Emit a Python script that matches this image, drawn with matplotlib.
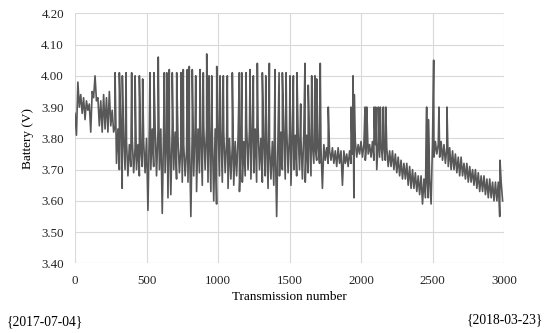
#Battery voltage per transmission

#Importing libraries
import numpy as np
import matplotlib
matplotlib.use("Agg")
import matplotlib.pyplot as plt

#Band: one high and one low value per 20 transmissions
bin_start = list(range(0, 3000, 20))
band_hi = [3.88, 3.98, 3.94, 3.93, 3.92, 3.91, 3.95, 4.00, 3.93, 3.92,
           3.94, 3.93, 3.95, 3.89, 3.84, 3.83, 3.84, 3.80, 3.79, 3.78,
           3.80, 3.77, 3.78, 3.76, 3.79, 3.80, 3.84, 3.83, 3.84, 3.82,
           3.83, 3.84, 3.82, 3.83, 3.84, 3.82, 3.80, 3.77, 3.78, 3.76,
           3.81, 3.83, 3.84, 3.83, 3.82, 3.84, 3.83, 3.84, 3.82, 3.83,
           3.84, 3.83, 3.82, 3.79, 3.80, 3.78, 3.79, 3.80, 3.78, 3.79,
           3.84, 3.83, 3.84, 3.83, 3.84, 3.80, 3.79, 3.80, 3.78, 3.79,
           3.80, 3.83, 3.82, 3.83, 3.84, 3.82, 3.83, 3.81, 3.82, 3.80,
           3.82, 3.81, 3.80, 3.78, 3.77, 3.78, 3.77, 3.78, 3.77, 3.76,
           3.77, 3.76, 3.77, 3.76, 3.76, 3.75, 3.76, 3.75, 3.79, 3.78,
           3.79, 3.78, 3.79, 3.78, 3.79, 3.78, 3.79, 3.78, 3.78, 3.77,
           3.76, 3.76, 3.75, 3.74, 3.73, 3.72, 3.72, 3.71, 3.70, 3.69,
           3.68, 3.68, 3.67, 3.68, 3.67, 3.79, 3.79, 3.78, 3.79, 3.78,
           3.77, 3.77, 3.76, 3.75, 3.74, 3.74, 3.72, 3.72, 3.71, 3.70,
           3.70, 3.69, 3.68, 3.68, 3.67, 3.67, 3.66, 3.66, 3.66, 3.66]
band_lo = [3.81, 3.90, 3.88, 3.86, 3.89, 3.82, 3.93, 3.92, 3.84, 3.82,
           3.83, 3.82, 3.84, 3.82, 3.72, 3.70, 3.64, 3.70, 3.68, 3.71,
           3.69, 3.70, 3.68, 3.71, 3.69, 3.57, 3.70, 3.71, 3.68, 3.70,
           3.56, 3.69, 3.61, 3.62, 3.70, 3.67, 3.69, 3.66, 3.68, 3.66,
           3.55, 3.68, 3.63, 3.69, 3.65, 3.70, 3.66, 3.63, 3.60, 3.59,
           3.68, 3.66, 3.69, 3.64, 3.67, 3.65, 3.68, 3.63, 3.66, 3.68,
           3.70, 3.67, 3.69, 3.66, 3.70, 3.66, 3.68, 3.64, 3.67, 3.65,
           3.55, 3.68, 3.70, 3.67, 3.69, 3.65, 3.70, 3.68, 3.70, 3.67,
           3.66, 3.69, 3.68, 3.72, 3.73, 3.72, 3.64, 3.73, 3.72, 3.73,
           3.72, 3.71, 3.72, 3.65, 3.72, 3.71, 3.72, 3.61, 3.74, 3.75,
           3.74, 3.73, 3.75, 3.74, 3.73, 3.70, 3.74, 3.73, 3.73, 3.71,
           3.71, 3.70, 3.69, 3.68, 3.67, 3.67, 3.65, 3.64, 3.64, 3.63,
           3.62, 3.59, 3.61, 3.61, 3.59, 3.74, 3.75, 3.74, 3.73, 3.72,
           3.71, 3.70, 3.70, 3.69, 3.68, 3.68, 3.67, 3.66, 3.66, 3.65,
           3.64, 3.63, 3.63, 3.62, 3.61, 3.61, 3.60, 3.60, 3.55, 3.60]

#Single spikes (transmission, voltage)
spike_t = [280, 310, 331, 357, 396, 420, 450, 473, 524, 552,
           582, 624, 641, 659, 680, 711, 741, 757, 785, 799,
           820, 844, 874, 897, 921, 937, 956, 991, 1014, 1037,
           1065, 1100, 1149, 1166, 1196, 1224, 1247, 1275, 1310, 1334,
           1359, 1399, 1427, 1450, 1476, 1503, 1527, 1552, 1578, 1608,
           1631, 1655, 1678, 1690, 1715, 1771, 1930, 1944, 1953, 2028,
           2040, 2091, 2103, 2121, 2135, 2156, 2173, 2459, 2471, 2508,
           2545, 2601, 2972]
spike_v = [4.01, 4.01, 4.00, 4.01, 4.01, 4.00, 4.00, 3.99, 4.01, 4.01,
           4.06, 4.01, 4.01, 4.02, 4.01, 4.01, 4.01, 4.02, 4.02, 4.03,
           4.02, 4.00, 4.02, 4.01, 4.07, 4.00, 4.00, 4.03, 4.00, 4.00,
           4.00, 4.01, 4.01, 4.01, 4.01, 4.02, 4.00, 4.04, 4.01, 4.00,
           4.04, 4.02, 4.01, 4.01, 4.01, 4.00, 4.00, 4.01, 3.91, 4.04,
           3.97, 4.00, 4.00, 3.99, 4.04, 3.90, 3.90, 4.00, 3.94, 3.90,
           3.90, 3.90, 3.90, 3.90, 3.90, 3.90, 3.90, 3.90, 3.86, 4.05,
           3.90, 3.90, 3.73]

#Building the series: high then low in each bin, spikes slotted in
t_band = np.ravel(np.column_stack([bin_start, np.array(bin_start) + 10]))
v_band = np.ravel(np.column_stack([band_hi, band_lo]))
t_all = np.concatenate([t_band, spike_t])
v_all = np.concatenate([v_band, spike_v])
order = np.argsort(t_all, kind="stable")
t_all, v_all = t_all[order], v_all[order]

#Plotting
plt.rcParams['font.family'] = ['Liberation Serif', 'DejaVu Serif']
fig = plt.figure(figsize=(5.5, 3.33), dpi=100)
ax = fig.add_axes([0.1364, 0.209, 0.78, 0.751])
ax.plot(t_all, v_all, color='#585858', linewidth=1.2)
ax.set_xlim(0, 3000)
ax.set_ylim(3.40, 4.20)
ax.set_xticks(np.arange(0, 3001, 500))
ax.set_yticks(np.arange(3.40, 4.201, 0.10))
ax.set_yticklabels(['%.2f' % v for v in np.arange(3.40, 4.201, 0.10)])
ax.grid(True, color='#d9d9d9', linewidth=0.8)
ax.set_axisbelow(True)
for s in ax.spines.values():
    s.set_visible(False)
ax.tick_params(length=0, labelsize=9.3, colors='#222222', pad=8)
ax.set_xlabel('Transmission number', fontsize=9.5, labelpad=3)
ax.set_ylabel('Battery (V)', fontsize=9.5, labelpad=5)

#Start and end dates
fig.text(0.012, 0.033, '{2017-07-04}', fontsize=9.8, ha='left', va='center')
fig.text(0.988, 0.039, '{2018-03-23}', fontsize=9.8, ha='right', va='center')

plt.savefig('out.png', dpi=100)
